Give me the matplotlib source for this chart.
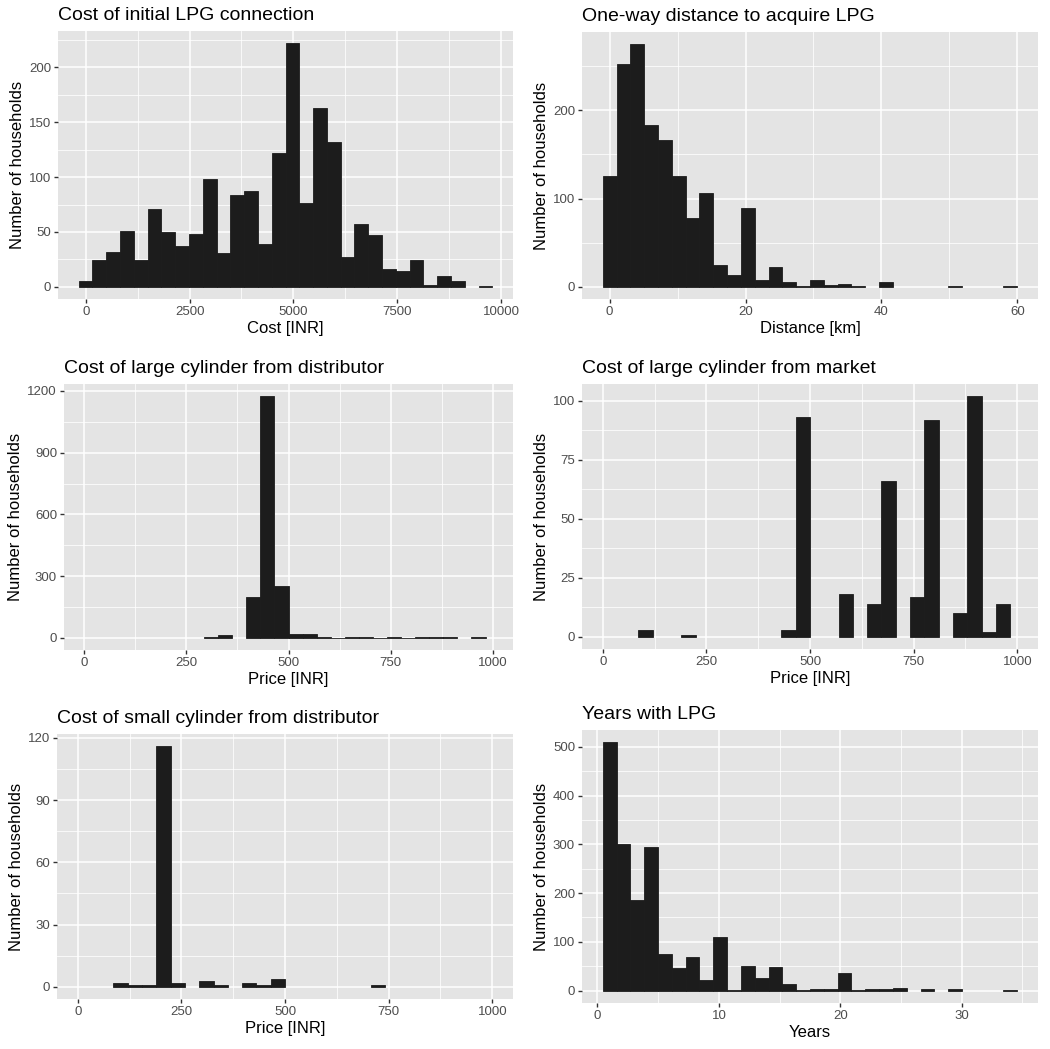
import numpy as np
import matplotlib.pyplot as plt
from matplotlib.ticker import AutoMinorLocator

plt.rcParams['font.family'] = ['Liberation Sans', 'DejaVu Sans']

# -----------------------------
# DATA (histogram counts, 30 bins each)
# -----------------------------

# Cost of initial LPG connection
conn_range = (-170, 9790)
conn_counts = [5, 24, 32, 51, 24, 71, 50, 37, 48, 98,
               31, 84, 87, 39, 122, 222, 76, 163, 132, 27,
               57, 47, 16, 14, 24, 2, 10, 5, 0, 1]

# One-way distance to acquire LPG
dist_range = (-1.017, 60.0)
dist_counts = [126, 252, 275, 183, 166, 126, 78, 106, 25, 14,
               89, 8, 22, 5, 1, 8, 2, 3, 1, 0,
               6, 0, 0, 0, 0, 1, 0, 0, 0, 1]

# price panels share bins over limits 0..1000
price_range = (-17.24, 1017.24)

large_dist_counts = [0, 0, 0, 0, 0, 0, 0, 0, 0, 4,
                     12, 0, 199, 1175, 251, 20, 20, 4, 1, 5,
                     5, 1, 4, 1, 5, 5, 5, 0, 4, 0]

large_market_counts = [0, 0, 0, 3, 0, 0, 1, 0, 0, 0,
                       0, 0, 0, 3, 93, 0, 0, 18, 0, 14,
                       66, 0, 17, 92, 0, 10, 102, 2, 14, 0]

small_dist_counts = [0, 0, 0, 2, 1, 1, 116, 2, 0, 3,
                     1, 0, 2, 1, 4, 0, 0, 0, 0, 0,
                     0, 1, 0, 0, 0, 0, 0, 0, 0, 0]

# Years with LPG
years_range = (0.431, 34.57)
years_counts = [509, 300, 185, 294, 76, 46, 69, 22, 110, 1,
                51, 25, 48, 13, 1, 3, 3, 36, 1, 3,
                3, 6, 0, 4, 0, 4, 0, 0, 0, 1]

panels = [
    dict(title="Cost of initial LPG connection", xlabel="Cost [INR]",
         rng=conn_range, counts=conn_counts,
         xticks=[0, 2500, 5000, 7500, 10000], yticks=[0, 50, 100, 150, 200],
         xlim=None, rect=(58, 31, 513, 299)),
    dict(title="One-way distance to acquire LPG", xlabel="Distance [km]",
         rng=dist_range, counts=dist_counts,
         xticks=[0, 20, 40, 60], yticks=[0, 100, 200],
         xlim=None, rect=(582, 32, 1038, 299)),
    dict(title="Cost of large cylinder from distributor", xlabel="Price [INR]",
         rng=price_range, counts=large_dist_counts,
         xticks=[0, 250, 500, 750, 1000], yticks=[0, 300, 600, 900, 1200],
         xlim=(0, 1000), rect=(64, 384, 513, 650)),
    dict(title="Cost of large cylinder from market", xlabel="Price [INR]",
         rng=price_range, counts=large_market_counts,
         xticks=[0, 250, 500, 750, 1000], yticks=[0, 25, 50, 75, 100],
         xlim=(0, 1000), rect=(582, 384, 1038, 649)),
    dict(title="Cost of small cylinder from distributor", xlabel="Price [INR]",
         rng=price_range, counts=small_dist_counts,
         xticks=[0, 250, 500, 750, 1000], yticks=[0, 30, 60, 90, 120],
         xlim=(0, 1000), rect=(57, 734, 513, 999)),
    dict(title="Years with LPG", xlabel="Years",
         rng=years_range, counts=years_counts,
         xticks=[0, 10, 20, 30], yticks=[0, 100, 200, 300, 400, 500],
         xlim=None, rect=(582, 730, 1038, 1003)),
]

# -----------------------------
# PLOT
# -----------------------------

W, H = 1050, 1049
fig = plt.figure(figsize=(W / 100, H / 100), dpi=100)

for p in panels:
    x0, y0, x1, y1 = p["rect"]
    ax = fig.add_axes([x0 / W, 1 - y1 / H, (x1 - x0) / W, (y1 - y0) / H])
    ax.set_facecolor("#E4E4E4")

    counts = np.array(p["counts"], dtype=float)
    edges = np.linspace(p["rng"][0], p["rng"][1], len(counts) + 1)
    keep = counts > 0
    ax.bar(edges[:-1][keep], counts[keep], width=np.diff(edges)[keep],
           align="edge", color="#1c1c1c", edgecolor="#1c1c1c",
           linewidth=0.6, zorder=3)

    # ggplot-style 5% expansion
    lo, hi = p["xlim"] if p["xlim"] else (edges[0], edges[-1])
    pad = (hi - lo) * 0.05
    ax.set_xlim(lo - pad, hi + pad)
    ymax = counts.max()
    ax.set_ylim(-ymax * 0.05, ymax * 1.05)

    ax.set_xticks(p["xticks"])
    ax.set_yticks(p["yticks"])
    ax.xaxis.set_minor_locator(AutoMinorLocator(2))
    ax.yaxis.set_minor_locator(AutoMinorLocator(2))
    ax.grid(which="major", color="white", linewidth=1.1, zorder=0)
    ax.grid(which="minor", color="white", linewidth=0.55, zorder=0)
    ax.set_axisbelow(True)

    for s in ax.spines.values():
        s.set_visible(False)
    ax.tick_params(which="major", length=3, width=1, color="#333333",
                   labelsize=9.5, labelcolor="#4d4d4d", pad=2)
    ax.tick_params(which="minor", length=0)

    ax.set_title(p["title"], loc="left", fontsize=14, pad=8)
    ax.set_xlabel(p["xlabel"], fontsize=12, labelpad=2)
    ax.set_ylabel("Number of households", fontsize=12, labelpad=3)

plt.savefig("out.png", dpi=100)
